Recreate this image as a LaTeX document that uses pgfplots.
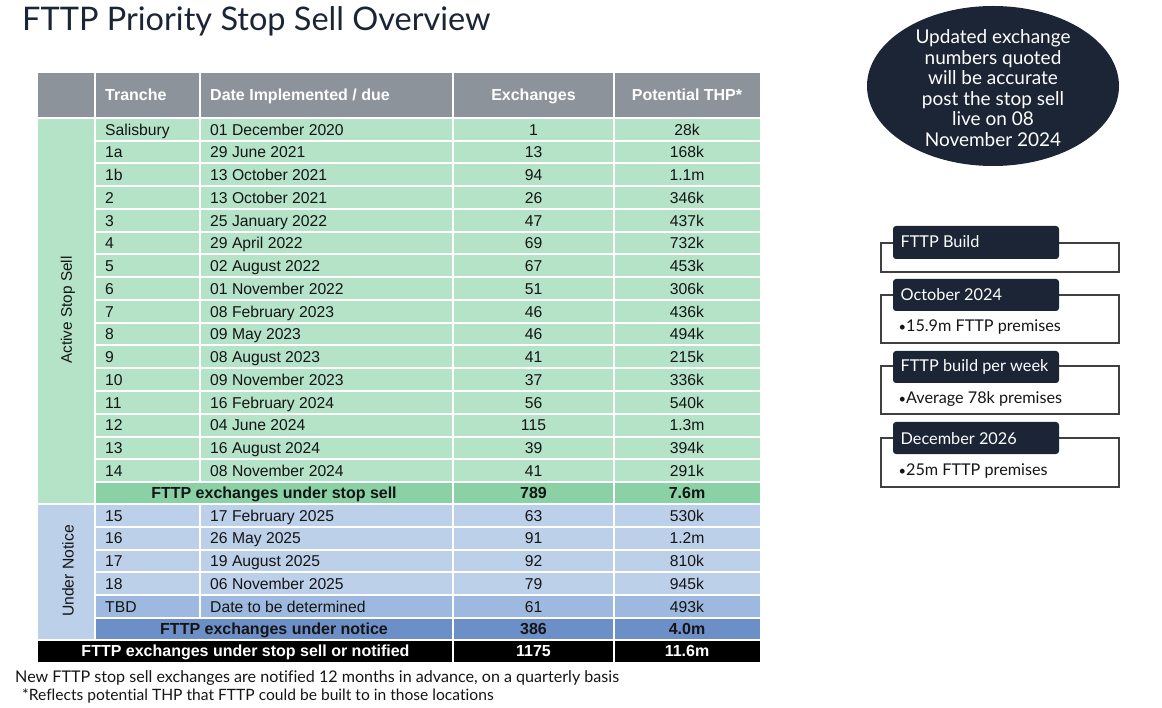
\documentclass[border=0pt]{standalone}
\usepackage{pgfplots}
\usepackage{pgfplotstable}
\pgfplotsset{compat=1.18}
\usepackage{fontspec}
\setmainfont{Lato}[Ligatures={NoCommon,NoRequired,NoContextual}]
\newfontfamily\tf{Liberation Sans}
\newcommand{\tfs}{\tf\fontsize{15.7}{19}\selectfont}
\newcommand{\tfb}{\tf\bfseries\fontsize{16}{19}\selectfont}
\definecolor{navy}{HTML}{1B2536}
\definecolor{hdr}{HTML}{8C939B}
\definecolor{grn}{HTML}{B4E3C8}
\definecolor{grnd}{HTML}{8AD2A6}
\definecolor{blu}{HTML}{BDD0EA}
\definecolor{blum}{HTML}{9DB9E0}
\definecolor{blud}{HTML}{6C8FC7}
\definecolor{txt}{HTML}{151515}

\pgfplotstableread[col sep=comma]{
row,tranche,date,exch,thp
0,Salisbury,01 December 2020,1,28k
1,1a,29 June 2021,13,168k
2,1b,13 October 2021,94,1.1m
3,2,13 October 2021,26,346k
4,3,25 January 2022,47,437k
5,4,29 April 2022,69,732k
6,5,02 August 2022,67,453k
7,6,01 November 2022,51,306k
8,7,08 February 2023,46,436k
9,8,09 May 2023,46,494k
10,9,08 August 2023,41,215k
11,10,09 November 2023,37,336k
12,11,16 February 2024,56,540k
13,12,04 June 2024,115,1.3m
14,13,16 August 2024,39,394k
15,14,08 November 2024,41,291k
}\activetable

\pgfplotstableread[col sep=comma]{
row,tranche,date,exch,thp
0,15,17 February 2025,63,530k
1,16,26 May 2025,91,1.2m
2,17,19 August 2025,92,810k
3,18,06 November 2025,79,945k
4,TBD,Date to be determined,61,493k
}\noticetable

\pgfplotstableread[col sep=comma]{
y,label,exch,thp
493,FTTP exchanges under stop sell,789,7.6m
629,FTTP exchanges under notice,386,4.0m
}\subtable

\begin{document}
\begin{tikzpicture}
\begin{axis}[scale only axis, width=1162pt, height=708pt,
  xmin=0, xmax=1162, ymin=0, ymax=708, y dir=reverse,
  axis lines=none, ticks=none, clip=false]

% page frame (bounding box)
\path (0,0) rectangle (1162,708);

% ---- title
\node[anchor=base west, inner sep=0pt, text=navy, font=\fontsize{32.5}{38}\selectfont] at (22,30.5) {FTTP Priority Stop Sell Overview};

% ---- table backgrounds
\fill[hdr] (38,73) rectangle (760,118);
\fill[grn] (38,118) rectangle (760,482);
\fill[grn] (38,482) rectangle (95,504);
\fill[grnd] (95,482) rectangle (760,504);
\fill[blu] (38,504) rectangle (760,595.2);
\fill[blu] (38,595.2) rectangle (95,640);
\fill[blum] (95,595.2) rectangle (760,618);
\fill[blud] (95,618) rectangle (760,640);
\fill[black] (38,640) rectangle (760,662);

% ---- white grid
\begin{scope}[white, line width=2pt]
\draw (38,118) -- (760,118);
\pgfplotsinvokeforeach{1,...,16}{\draw (95,{118+22.75*#1}) -- (760,{118+22.75*#1});}
\draw (38,504) -- (760,504);
\pgfplotsinvokeforeach{1,...,5}{\draw (95,{504+22.8*#1}) -- (760,{504+22.8*#1});}
\draw (38,640) -- (760,640);
\draw (95,73) -- (95,640);
\draw (200,73) -- (200,482);
\draw (200,504) -- (200,618);
\draw (453,73) -- (453,662);
\draw (614,73) -- (614,662);
\end{scope}

% ---- header
\node[anchor=base west, inner sep=0pt, text=white, font=\tfb] at (105,100.7) {Tranche};
\node[anchor=base west, inner sep=0pt, text=white, font=\tfb] at (210,100.7) {Date Implemented / due};
\node[anchor=base, inner sep=0pt, text=white, font=\tfb] at (533.5,100.7) {Exchanges};
\node[anchor=base, inner sep=0pt, text=white, font=\tfb] at (687,100.7) {Potential THP*};

% ---- side labels
\node[rotate=90, inner sep=0pt, text=txt, font=\tf\fontsize{15.3}{18}\selectfont] at (68,310) {Active Stop Sell};
\node[rotate=90, inner sep=0pt, text=txt, font=\tfs] at (68,571) {Under Notice};

% ---- data columns
\pgfplotsset{cellnodes/.style={draw=none, mark=none, nodes near coords, point meta=explicit symbolic,
  every node near coord/.append style={inner sep=0pt, yshift=-5.7pt, text=txt, #1}}}

\addplot[cellnodes={anchor=base west, font=\tfs}] table[x expr=105, y expr={118+22.75*(\thisrow{row}+0.5)}, meta=tranche] {\activetable};
\addplot[cellnodes={anchor=base west, font=\tfs}] table[x expr=210, y expr={118+22.75*(\thisrow{row}+0.5)}, meta=date] {\activetable};
\addplot[cellnodes={anchor=base, font=\tfs}] table[x expr=533.5, y expr={118+22.75*(\thisrow{row}+0.5)}, meta=exch] {\activetable};
\addplot[cellnodes={anchor=base, font=\tfs}] table[x expr=687, y expr={118+22.75*(\thisrow{row}+0.5)}, meta=thp] {\activetable};

\addplot[cellnodes={anchor=base west, font=\tfs}] table[x expr=105, y expr={504+22.8*(\thisrow{row}+0.5)}, meta=tranche] {\noticetable};
\addplot[cellnodes={anchor=base west, font=\tfs}] table[x expr=210, y expr={504+22.8*(\thisrow{row}+0.5)}, meta=date] {\noticetable};
\addplot[cellnodes={anchor=base, font=\tfs}] table[x expr=533.5, y expr={504+22.8*(\thisrow{row}+0.5)}, meta=exch] {\noticetable};
\addplot[cellnodes={anchor=base, font=\tfs}] table[x expr=687, y expr={504+22.8*(\thisrow{row}+0.5)}, meta=thp] {\noticetable};

\addplot[cellnodes={anchor=base, font=\tfb}] table[x expr=274, y=y, meta=label] {\subtable};
\addplot[cellnodes={anchor=base, font=\tfb}] table[x expr=533.5, y=y, meta=exch] {\subtable};
\addplot[cellnodes={anchor=base, font=\tfb}] table[x expr=687, y=y, meta=thp] {\subtable};

% ---- total row
\node[anchor=base, inner sep=0pt, text=white, font=\tfb] at (245.5,656.7) {FTTP exchanges under stop sell or notified};
\node[anchor=base, inner sep=0pt, text=white, font=\tfb] at (533.5,656.7) {1175};
\node[anchor=base, inner sep=0pt, text=white, font=\tfb] at (687,656.7) {11.6m};

% ---- notes
\node[anchor=base west, inner sep=0pt, text=txt, font=\fontsize{16.1}{18}\selectfont] at (15,682) {New FTTP stop sell exchanges are notified 12 months in advance, on a quarterly basis};
\node[anchor=base west, inner sep=0pt, text=txt, font=\fontsize{15.6}{18}\selectfont] at (22,700) {*Reflects potential THP that FTTP could be built to in those locations};

% ---- ellipse
\fill[navy] (993,86) ellipse [x radius=126, y radius=80];
\node[align=center, text=white, inner sep=0pt, font=\fontsize{19}{20.6}\selectfont] at (993,88) {Updated exchange\\numbers quoted\\will be accurate\\post the stop sell\\live on 08\\November 2024};

% ---- right boxes
\begin{scope}[line width=1.2pt]
\draw[black!75] (881,243) rectangle (1119,272);
\fill[navy, rounded corners=3pt] (893,226) rectangle (1059,259);
\node[anchor=base west, inner sep=0pt, text=white, font=\fontsize{16.3}{19}\selectfont] at (900,248) {FTTP Build};

\draw[black!75] (881,295) rectangle (1119,343);
\fill[navy, rounded corners=3pt] (893,279) rectangle (1059,311);
\node[anchor=base west, inner sep=0pt, text=white, font=\fontsize{16.3}{19}\selectfont] at (900,301) {October 2024};
\node[anchor=base west, inner sep=0pt, text=txt, font=\fontsize{16.2}{19}\selectfont] at (898,332) {\scalebox{0.8}{•}15.9m FTTP premises};

\draw[black!75] (881,366) rectangle (1119,414);
\fill[navy, rounded corners=3pt] (893,351) rectangle (1059,383);
\node[anchor=base west, inner sep=0pt, text=white, font=\fontsize{16.3}{19}\selectfont] at (900,372) {FTTP build per week};
\node[anchor=base west, inner sep=0pt, text=txt, font=\fontsize{16.2}{19}\selectfont] at (898,404) {\scalebox{0.8}{•}Average 78k premises};

\draw[black!75] (881,438) rectangle (1119,487);
\fill[navy, rounded corners=3pt] (893,422) rectangle (1059,454);
\node[anchor=base west, inner sep=0pt, text=white, font=\fontsize{16.3}{19}\selectfont] at (900,444) {December 2026};
\node[anchor=base west, inner sep=0pt, text=txt, font=\fontsize{16.2}{19}\selectfont] at (898,475) {\scalebox{0.8}{•}25m FTTP premises};
\end{scope}
\end{axis}
\end{tikzpicture}
\end{document}
